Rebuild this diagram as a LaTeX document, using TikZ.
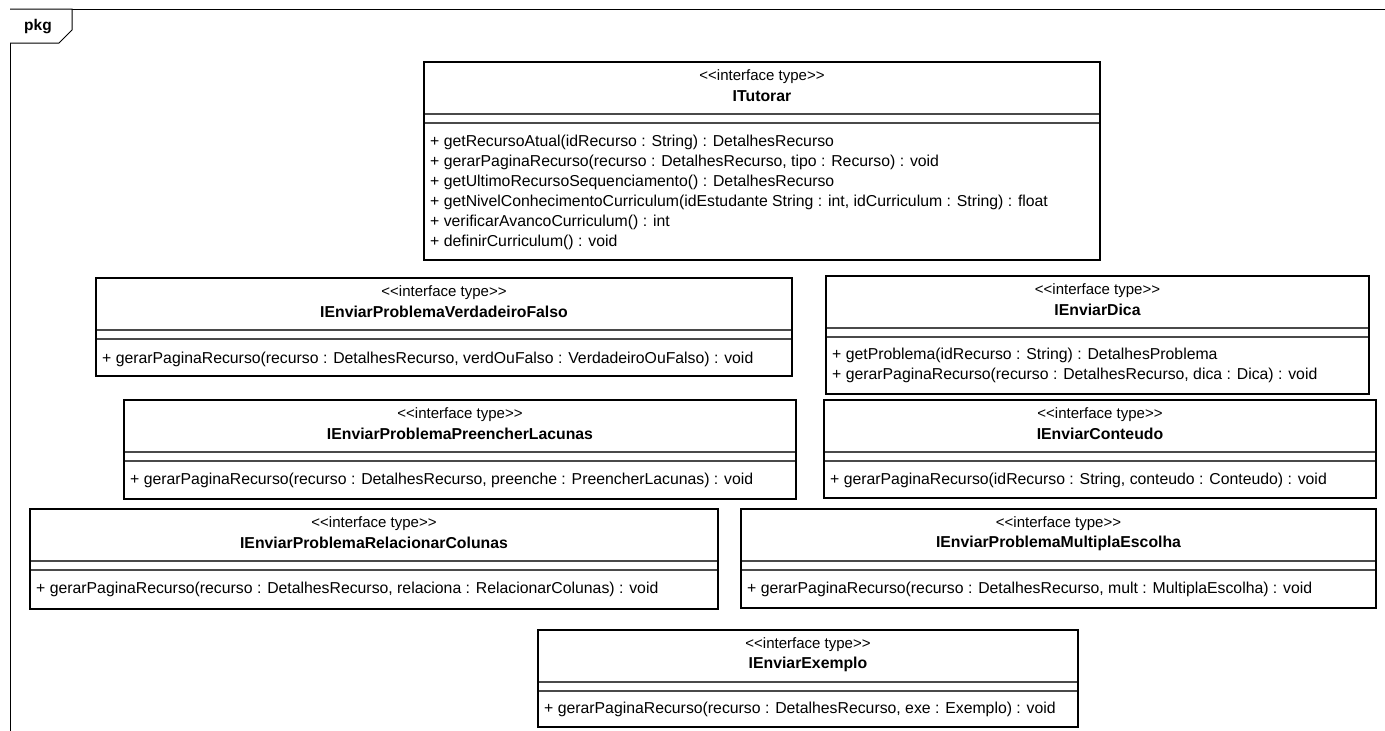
\documentclass[tikz,border=0pt]{standalone}
\usepackage{fontspec}
\usepackage{tikz}
\usetikzlibrary{positioning}
\newfontfamily\umlfont{Liberation Sans}
\definecolor{sepgray}{HTML}{4A4A4A}

\tikzset{
  frameline/.style={draw=black, line width=1pt},
  boxline/.style={draw=black, line width=2.8pt},
  sepline/.style={draw=sepgray, line width=1.3pt},
  stereo/.style={font=\umlfont\fontsize{15}{17}\selectfont, inner sep=0pt},
  ifname/.style={font=\umlfont\bfseries\fontsize{15.8}{17}\selectfont, inner sep=0pt},
  oper/.style={font=\umlfont\fontsize{15.8}{17}\selectfont, anchor=west, inner sep=0pt},
}

% #1 id, #2 left, #3 top, #4 right, #5 bottom, #6 name
\newcommand{\ifacebox}[6]{%
  \draw[sepline] (#2,#3+52) -- (#4,#3+52);
  \draw[sepline] (#2,#3+61) -- (#4,#3+61);
  \draw[boxline] (#2,#3) rectangle (#4,#5);
  \node[stereo] (#1-st) at ({(#2+#4)/2},#3+15) {<<interface type>>};
  \node[ifname] (#1-nm) at ({(#2+#4)/2},#3+34) {#6};
}

\begin{document}
\begin{tikzpicture}[x=1pt,y=-1pt]
  \useasboundingbox[fill=white] (0,0) rectangle (1385,731);
  \draw[frameline] (10,731) -- (10,9) -- (1385,9);
  \draw[frameline, fill=white] (10,9) -- (72,9) -- (72,30) -- (59,43) -- (10,43);
  \node[ifname, font=\umlfont\bfseries\fontsize{15.5}{17}\selectfont] (pkg) at (38,27) {pkg};

  \ifacebox{tut}{424}{62}{1100}{260}{ITutorar}
  \foreach \i/\txt in {1/{+ getRecursoAtual(idRecurso : String) : DetalhesRecurso},
                      2/{+ gerarPaginaRecurso(recurso : DetalhesRecurso, tipo : Recurso) : void},
                      3/{+ getUltimoRecursoSequenciamento() : DetalhesRecurso},
                      4/{+ getNivelConhecimentoCurriculum(idEstudante String : int, idCurriculum : String) : float},
                      5/{+ verificarAvancoCurriculum() : int},
                      6/{+ definirCurriculum() : void}}{
    \node[oper] (tut-m\i) at (430,122+20*\i) {\txt};
  }

  \ifacebox{vf}{96}{278}{792}{376}{IEnviarProblemaVerdadeiroFalso}
  \node[oper] (vf-m1) at (102,359) {+ gerarPaginaRecurso(recurso : DetalhesRecurso, verdOuFalso : VerdadeiroOuFalso) : void};

  \ifacebox{dica}{826}{276}{1369}{394}{IEnviarDica}
  \node[oper] (dica-m1) at (832,355) {+ getProblema(idRecurso : String) : DetalhesProblema};
  \node[oper] (dica-m2) at (832,375) {+ gerarPaginaRecurso(recurso : DetalhesRecurso, dica : Dica) : void};

  \ifacebox{pl}{124}{400}{796}{499}{IEnviarProblemaPreencherLacunas}
  \node[oper] (pl-m1) at (130,480) {+ gerarPaginaRecurso(recurso : DetalhesRecurso, preenche : PreencherLacunas) : void};

  \ifacebox{cont}{824}{400}{1376}{498}{IEnviarConteudo}
  \node[oper] (cont-m1) at (830,480) {+ gerarPaginaRecurso(idRecurso : String, conteudo : Conteudo) : void};

  \ifacebox{rc}{30}{509}{718}{609}{IEnviarProblemaRelacionarColunas}
  \node[oper] (rc-m1) at (36,589) {+ gerarPaginaRecurso(recurso : DetalhesRecurso, relaciona : RelacionarColunas) : void};

  \ifacebox{me}{741}{509}{1376}{608}{IEnviarProblemaMultiplaEscolha}
  \node[oper] (me-m1) at (747,589) {+ gerarPaginaRecurso(recurso : DetalhesRecurso, mult : MultiplaEscolha) : void};

  \ifacebox{ex}{538}{630}{1078}{727}{IEnviarExemplo}
  \node[oper] (ex-m1) at (544,709) {+ gerarPaginaRecurso(recurso : DetalhesRecurso, exe : Exemplo) : void};
\end{tikzpicture}
\end{document}
